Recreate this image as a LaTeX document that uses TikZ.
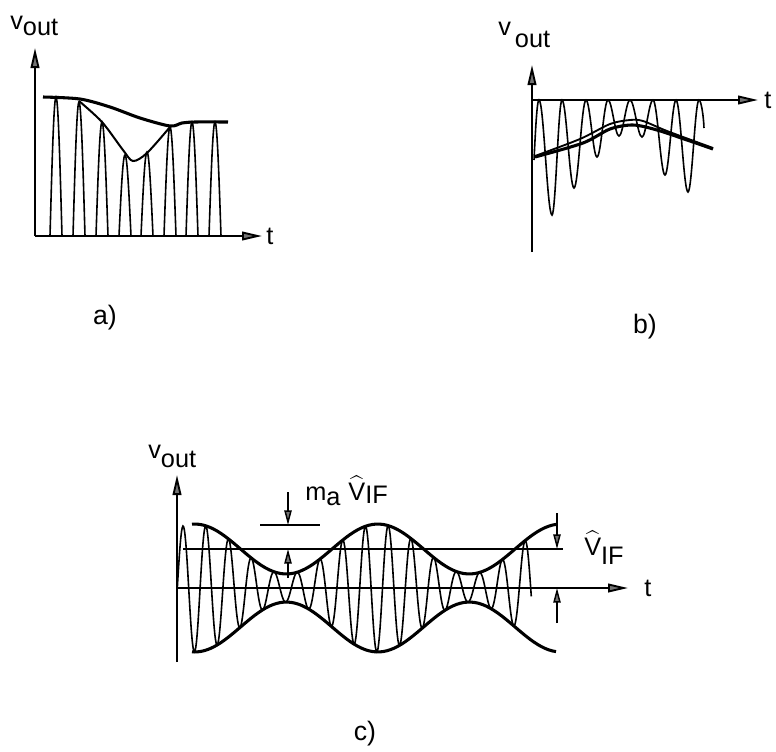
\documentclass[tikz,border=0pt]{standalone}
\usepackage{amsmath}
\usepackage{fontspec}
\setmainfont{Liberation Sans}
\usetikzlibrary{arrows.meta}
\newcommand{\lowsub}[2]{\raisebox{-#1}{\fontsize{19}{22}\selectfont #2}}

\begin{document}
\begin{tikzpicture}[x=0.75pt, y=-0.75pt,
    axis/.style={line width=1.4pt, -{Triangle[length=15pt, width=6.5pt, fill=black!55]}},
    dim/.style={line width=1.1pt, -{Triangle[length=11pt, width=5.5pt, fill=black!55]}},
    wave/.style={line width=1.2pt},
    env/.style={line width=2.3pt},
    guide/.style={line width=1.1pt},
    lbl/.style={font=\fontsize{19}{22}\selectfont, inner sep=0pt},
    panel/.style={font=\fontsize{20}{24}\selectfont, inner sep=0pt}
]
\useasboundingbox (0,0) rectangle (776,751);

% a) rectified pulses
\coordinate (oa) at (35,236);
\coordinate (ya) at (35,48);
\coordinate (xa) at (262,236);
\draw[axis] (oa) -- (ya);
\draw[axis] (oa) -- (xa);
\node[lbl, anchor=base west] (va) at (10,29) {v\lowsub{4.5pt}{out}};
\node[lbl, anchor=west] (ta) at (266,236) {t};
\foreach \c/\p in {56/97, 79/102, 102/122, 125/155, 147/152, 170/127, 192/122, 215/122}
  \draw[wave] plot[domain=-6:6, samples=25] ({\c+\x},{236-(236-\p)*cos(15*\x)});
\draw[env] plot[smooth] coordinates {(43,97) (80,99) (110,107) (140,118) (170,126) (182,123) (195,122) (228,122)};
\draw[wave, line width=1.5pt] plot[smooth] coordinates {(79,101) (102,122) (123,150) (133,161) (147,153) (170,127)};
\node[panel] (capa) at (105,318) {a)};

% b) output below the axis
\coordinate (ob) at (532,100);
\coordinate (yb) at (532,65);
\coordinate (bb) at (532,252);
\coordinate (xb) at (758,100);
\draw[axis] (bb) -- (yb);
\draw[axis] (ob) -- (xb);
\node[lbl, anchor=base west] (vb) at (498,35) {v\hspace{3pt}\lowsub{9pt}{out}};
\node[lbl, anchor=west] (tb) at (764,100) {t};
\draw[wave] (534,160) .. controls (535.5,130) and (537,100) .. (539,100)
  \foreach \xa/\ya/\xb/\yb in {539/100/552/215, 552/215/562/100, 562/100/574/188, 574/188/586/100,
      586/100/597/157, 597/157/608/100, 608/100/619/136, 619/136/630/100, 630/100/642/137,
      642/137/653/100, 653/100/665/175, 665/175/676/100, 676/100/688/192, 688/192/699/100}
  { .. controls ({\xa+0.36*(\xb-\xa)},\ya) and ({\xb-0.36*(\xb-\xa)},\yb) .. (\xb,\yb) }
  .. controls (701,100) and (703.5,115) .. (704,128);
\draw[env] plot[smooth] coordinates {(535,157) (583,143) (610,129) (633,125) (657,130) (687,140) (713,149)};
\draw[wave, line width=1.4pt] plot[smooth] coordinates {(535,156) (580,139) (610,124) (630,120) (643,121) (667,131) (713,148)};
\node[panel] (capb) at (645,327) {b)};

% c) AM signal
\coordinate (oc) at (177,588);
\coordinate (yc) at (177,475);
\coordinate (bc) at (177,662);
\coordinate (xc) at (628,588);
\draw[axis] (bc) -- (yc);
\draw[axis] (oc) -- (xc);
\node[lbl, anchor=base west] (vc) at (148,458) {v\lowsub{6.75pt}{out}};
\node[lbl, anchor=west] (tc) at (644,588) {t};
\draw[wave] plot[domain=177.3:531.3, samples=500]
  (\x, {588-39*(1+0.64*cos((\x-194.8)*1.967))*sin((\x-177.3)*15.789)});
\draw[env] plot[domain=192:556, samples=100] (\x, {588-39*(1+0.64*cos((\x-194.8)*1.967))});
\draw[env] plot[domain=192:556, samples=100] (\x, {588+39*(1+0.64*cos((\x-194.8)*1.967))});
\coordinate (ifl) at (183,549);
\coordinate (ifr) at (563,549);
\draw[guide] (ifl) -- (ifr);
\coordinate (mtl) at (260,525);
\coordinate (mtr) at (320,525);
\draw[guide] (mtl) -- (mtr);
\coordinate (m1) at (288,492);
\coordinate (m2) at (288,525);
\coordinate (m3) at (288,578);
\coordinate (m4) at (288,549);
\draw[dim] (m1) -- (m2);
\draw[dim] (m3) -- (m4);
\coordinate (v1) at (557,513);
\coordinate (v2) at (557,549);
\coordinate (v3) at (557,623);
\coordinate (v4) at (557,588);
\draw[dim] (v1) -- (v2);
\draw[dim] (v3) -- (v4);
\node[lbl, anchor=base west] (ma) at (305,500) {m\lowsub{4pt}{a}\hspace{6pt}\(\widehat{\text{V}}\)\lowsub{2.5pt}{IF}};
\node[lbl, anchor=base west] (vif) at (584,555) {\(\widehat{\text{V}}\)\lowsub{6.75pt}{IF}};
\node[panel] (capc) at (365,734) {c)};
\end{tikzpicture}
\end{document}
